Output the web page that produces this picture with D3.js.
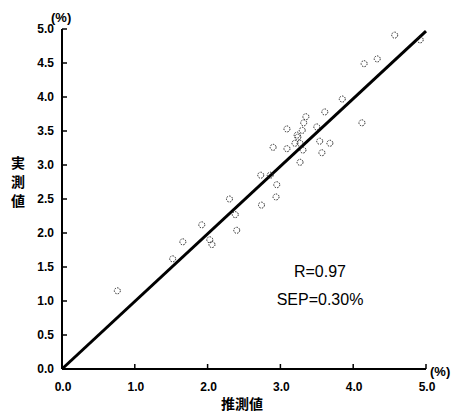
<!DOCTYPE html>
<html>
<head>
<meta charset="utf-8">
<script src="https://cdn.jsdelivr.net/npm/d3@7"></script>
<style>
  body { margin: 0; background: #fff; }
  svg { display: block; }
  .tick-label { font-family: "Liberation Sans", Arial, sans-serif; font-weight: bold; font-size: 12px; }
  .unit { font-family: "Liberation Sans", Arial, sans-serif; font-weight: bold; font-size: 13px; }
  .jp { font-family: "Noto Sans CJK JP", sans-serif; font-weight: bold; font-size: 14px; }
  .stat { font-family: "Liberation Sans", Arial, sans-serif; font-size: 16px; }
</style>
</head>
<body>
<div id="chart"></div>
<script>
// predicted (x) vs measured (y), %
const predicted = [0.76, 1.52, 1.66, 1.92, 2.03, 2.06, 2.30, 2.38, 2.40, 2.74, 2.73, 2.86, 2.95, 2.94,
  2.90, 3.09, 3.09, 3.27, 3.23, 3.32, 3.35, 3.30, 3.24, 3.27, 3.31, 3.20, 3.50, 3.54, 3.68, 3.57,
  3.61, 3.85, 4.12, 4.15, 4.33, 4.57, 4.92];
const measured = [1.15, 1.62, 1.87, 2.12, 1.90, 1.83, 2.50, 2.27, 2.04, 2.41, 2.85, 2.85, 2.71, 2.53,
  3.26, 3.53, 3.24, 3.04, 3.44, 3.62, 3.71, 3.51, 3.41, 3.32, 3.22, 3.32, 3.56, 3.35, 3.32, 3.18,
  3.78, 3.97, 3.62, 4.49, 4.56, 4.91, 4.84];
const fitX = [0, 5.0];
const fitY = [0, 4.97];
const xTicks = [0, 1, 2, 3, 4, 5];
const yTicks = [0, 0.5, 1, 1.5, 2, 2.5, 3, 3.5, 4, 4.5, 5];
const stats = ["R=0.97", "SEP=0.30%"];

const width = 454, height = 414;
const svg = d3.select("#chart").append("svg")
  .attr("width", width)
  .attr("height", height);

const x = d3.scaleLinear().domain([0, 5]).range([62, 426]);
const y = d3.scaleLinear().domain([0, 5]).range([369, 29]);

// axes lines
svg.append("line")
  .attr("x1", x(0)).attr("x2", x(0))
  .attr("y1", y(0)).attr("y2", y(5))
  .attr("stroke", "#000").attr("stroke-width", 2);
svg.append("line")
  .attr("x1", x(0)).attr("x2", x(5))
  .attr("y1", y(0)).attr("y2", y(0))
  .attr("stroke", "#000").attr("stroke-width", 2);

// y ticks + labels
svg.selectAll(".ytick")
  .data(yTicks)
  .enter().append("line")
  .attr("x1", x(0)).attr("x2", x(0) + 5)
  .attr("y1", d => y(d)).attr("y2", d => y(d))
  .attr("stroke", "#000").attr("stroke-width", 1.5);
svg.selectAll(".ylab")
  .data(yTicks)
  .enter().append("text")
  .attr("class", "tick-label")
  .attr("x", x(0) - 8)
  .attr("y", d => y(d) + 4)
  .attr("text-anchor", "end")
  .text(d => d.toFixed(1));

// x ticks + labels
svg.selectAll(".xtick")
  .data(xTicks.slice(1))
  .enter().append("line")
  .attr("x1", d => x(d)).attr("x2", d => x(d))
  .attr("y1", y(0)).attr("y2", y(0) - 5)
  .attr("stroke", "#000").attr("stroke-width", 1.5);
svg.selectAll(".xlab")
  .data(xTicks)
  .enter().append("text")
  .attr("class", "tick-label")
  .attr("x", d => x(d) + 1)
  .attr("y", 391)
  .attr("text-anchor", "middle")
  .text(d => d.toFixed(1));

// unit marks
svg.append("text").attr("class", "unit")
  .attr("x", 51).attr("y", 22).text("(%)");
svg.append("text").attr("class", "unit")
  .attr("x", 430).attr("y", 376).text("(%)");

// axis titles
svg.append("text").attr("class", "jp")
  .attr("x", 242).attr("y", 409)
  .attr("text-anchor", "middle")
  .text("推測値");
svg.selectAll(".ych")
  .data(["実", "測", "値"])
  .enter().append("text")
  .attr("class", "jp")
  .attr("x", 18)
  .attr("y", (d, i) => 168 + i * 19)
  .attr("text-anchor", "middle")
  .text(d => d);

// regression line
svg.append("line")
  .attr("x1", x(fitX[0])).attr("y1", y(fitY[0]))
  .attr("x2", x(fitX[1])).attr("y2", y(fitY[1]))
  .attr("stroke", "#000").attr("stroke-width", 3);

// points
svg.selectAll(".pt")
  .data(predicted.map((d, i) => [d, measured[i]]))
  .enter().append("circle")
  .attr("cx", d => x(d[0]))
  .attr("cy", d => y(d[1]))
  .attr("r", 3)
  .attr("fill", "none")
  .attr("stroke", "#222")
  .attr("stroke-width", 1)
  .attr("stroke-dasharray", "1.5,1.2");

// stats
svg.selectAll(".stat")
  .data(stats)
  .enter().append("text")
  .attr("class", "stat")
  .attr("x", 320)
  .attr("y", (d, i) => 277 + i * 28)
  .attr("text-anchor", "middle")
  .text(d => d);
</script>
</body>
</html>
